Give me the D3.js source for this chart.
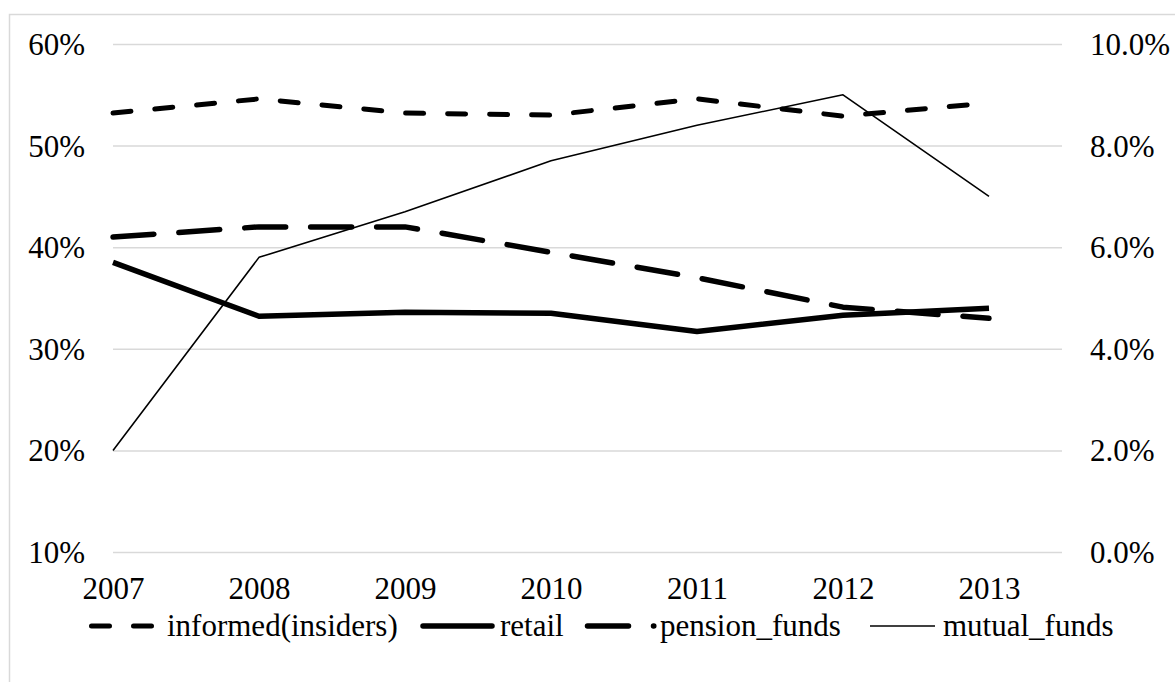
<!DOCTYPE html>
<html>
<head>
<meta charset="utf-8">
<script src="https://cdn.jsdelivr.net/npm/d3@7"></script>
<style>
  html, body { margin: 0; padding: 0; background: #fff; }
</style>
</head>
<body>
<div id="chart"></div>
<script>
// chart data
const years = ['2007', '2008', '2009', '2010', '2011', '2012', '2013'];
const informed = [53.2, 54.6, 53.2, 53.0, 54.6, 52.9, 54.2];   // left axis, %
const retail = [38.5, 33.2, 33.6, 33.5, 31.7, 33.3, 34.0];     // left axis, %
const pension = [41.0, 42.0, 42.0, 39.5, 37.0, 34.1, 33.0];    // left axis, %
const mutual = [2.0, 5.8, 6.7, 7.7, 8.4, 9.0, 7.0];            // right axis, %
const leftTicks = [10, 20, 30, 40, 50, 60];
const rightTicks = [0, 2, 4, 6, 8, 10];

const width = 1175;
const height = 682;
const plot = { left: 113, right: 1062, top: 44, bottom: 552 };
const step = (plot.right - plot.left) / 6.5;
const font = "'Liberation Serif', 'Times New Roman', Times, serif";
const fontSize = '31px';

const svg = d3.select('#chart')
    .append('svg')
    .attr('width', width)
    .attr('height', height)
    .style('font-family', font);

// outer chart border (cropped at right and bottom in the original)
svg.append('rect')
    .attr('x', 9.5)
    .attr('y', 14.5)
    .attr('width', 1300)
    .attr('height', 800)
    .attr('fill', 'none')
    .attr('stroke', '#d9d9d9')
    .attr('stroke-width', 1.5);

const x = d3.scalePoint()
    .domain(years)
    .range([plot.left, plot.left + step * 6]);

const yLeft = d3.scaleLinear()
    .domain([10, 60])
    .range([plot.bottom, plot.top]);

const yRight = d3.scaleLinear()
    .domain([0, 10])
    .range([plot.bottom, plot.top]);

// left axis with gridlines
const leftAxis = svg.append('g')
    .attr('transform', `translate(${plot.left},0)`)
    .call(d3.axisLeft(yLeft)
        .tickValues(leftTicks)
        .tickSize(-(plot.right - plot.left))
        .tickPadding(28)
        .tickFormat(d => d + '%'));
leftAxis.select('.domain').remove();
leftAxis.selectAll('.tick line')
    .attr('stroke', '#d9d9d9')
    .attr('stroke-width', 1.5);

// right axis
const rightAxis = svg.append('g')
    .attr('transform', `translate(${plot.right},0)`)
    .call(d3.axisRight(yRight)
        .tickValues(rightTicks)
        .tickSize(0)
        .tickPadding(28)
        .tickFormat(d => d.toFixed(1) + '%'));
rightAxis.select('.domain').remove();

// category axis
const xAxis = svg.append('g')
    .attr('transform', `translate(0,${plot.bottom})`)
    .call(d3.axisBottom(x).tickSize(0));
xAxis.select('.domain').remove();
xAxis.selectAll('.tick text')
    .attr('dy', null)
    .attr('y', 47);

[leftAxis, rightAxis, xAxis].forEach(g => {
    g.attr('font-family', null).attr('font-size', null);
    g.selectAll('.tick text')
        .style('font-family', font)
        .style('font-size', fontSize)
        .attr('fill', '#000');
});
leftAxis.selectAll('.tick text').attr('dy', '0.34em');
rightAxis.selectAll('.tick text').attr('dy', '0.34em');

const lineLeft = d3.line()
    .x((d, i) => x(years[i]))
    .y(d => yLeft(d));

const lineRight = d3.line()
    .x((d, i) => x(years[i]))
    .y(d => yRight(d));

const series = [
    { name: 'informed(insiders)', values: informed, line: lineLeft, width: 5, dash: '18,24' },
    { name: 'retail', values: retail, line: lineLeft, width: 5.5, dash: null },
    { name: 'pension_funds', values: pension, line: lineLeft, width: 5.5, dash: '41,25' },
    { name: 'mutual_funds', values: mutual, line: lineRight, width: 1.6, dash: null }
];

svg.append('g')
    .selectAll('path')
    .data(series)
    .join('path')
    .attr('d', d => d.line(d.values))
    .attr('fill', 'none')
    .attr('stroke', '#000')
    .attr('stroke-width', d => d.width)
    .attr('stroke-linecap', d => d.dash ? 'round' : 'butt')
    .attr('stroke-linejoin', 'round')
    .attr('stroke-dasharray', d => d.dash);

// legend: sample start/end and text start for each entry
const legendLayout = [
    { x1: 91.5, x2: 151.5, tx: 167 },
    { x1: 423, x2: 492, tx: 500 },
    { x1: 587.5, x2: 653.8, tx: 660 },
    { x1: 870, x2: 935, tx: 943 }
];
const legendY = 626;

const legend = svg.append('g');
series.forEach((s, i) => {
    const p = legendLayout[i];
    legend.append('line')
        .attr('x1', p.x1)
        .attr('x2', p.x2)
        .attr('y1', legendY)
        .attr('y2', legendY)
        .attr('stroke', '#000')
        .attr('stroke-width', s.width)
        .attr('stroke-linecap', s.dash || s.width > 2 ? 'round' : 'butt')
        .attr('stroke-dasharray', s.dash);
    legend.append('text')
        .attr('x', p.tx)
        .attr('y', legendY + 10)
        .attr('fill', '#000')
        .style('font-family', font)
        .style('font-size', fontSize)
        .text(s.name);
});
</script>
</body>
</html>
